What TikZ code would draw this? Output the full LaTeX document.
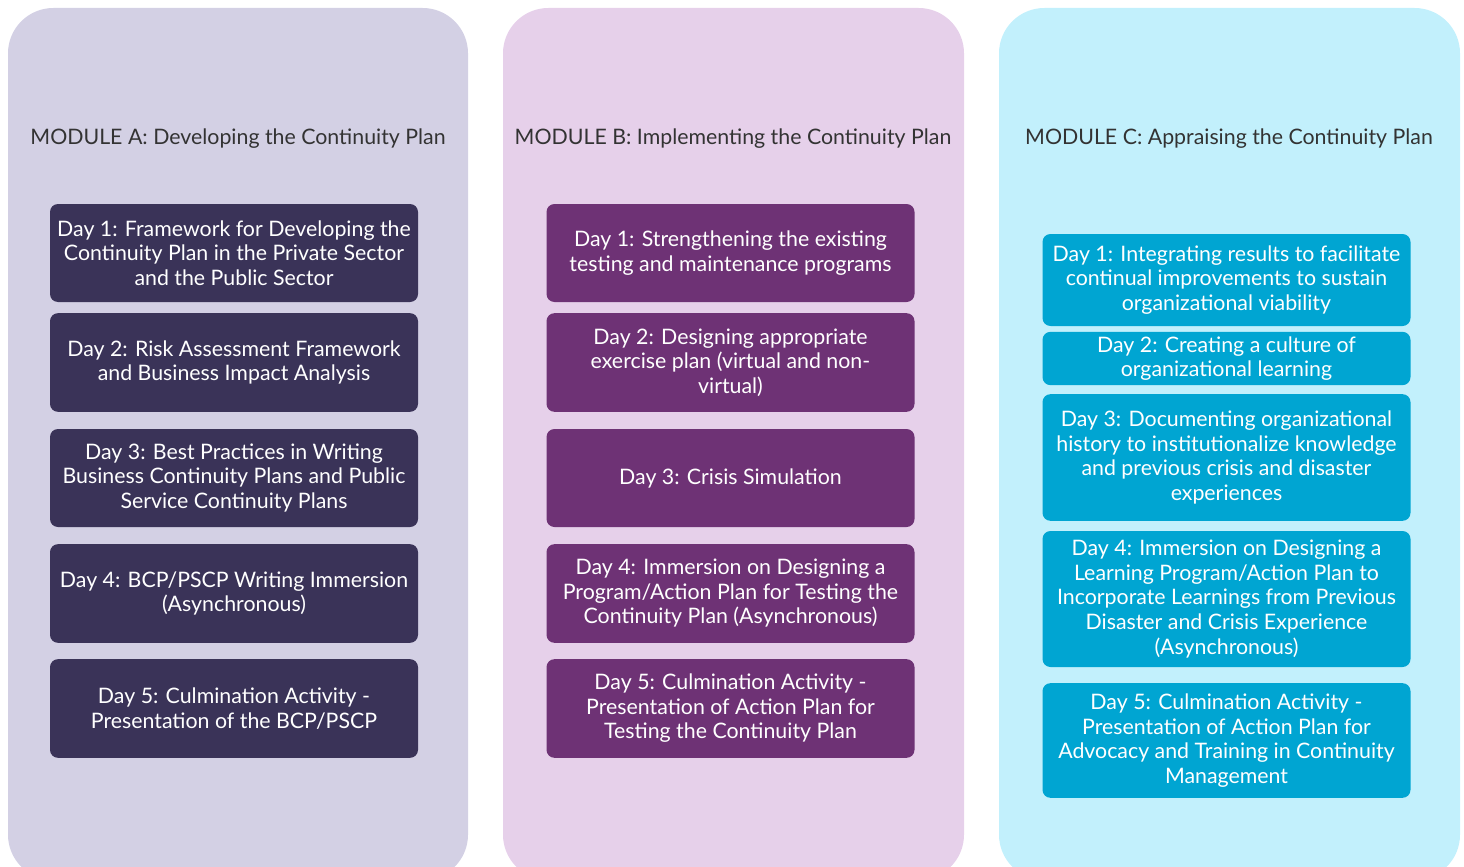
\documentclass[tikz,border=0pt]{standalone}
\usepackage{fontspec}
\setmainfont{Lato}
\definecolor{panelA}{HTML}{D3D0E4}
\definecolor{panelB}{HTML}{E6D0EA}
\definecolor{panelC}{HTML}{C2F0FC}
\definecolor{dayA}{HTML}{3A3358}
\definecolor{dayB}{HTML}{6E3275}
\definecolor{dayC}{HTML}{00A5D2}
\definecolor{titlegray}{HTML}{333333}
\usetikzlibrary{positioning}

\begin{document}
\begin{tikzpicture}[x=0.75pt, y=-0.75pt,
    panel/.style={rounded corners=34pt},
    title/.style={font=\fontsize{16}{18}\selectfont, text=titlegray},
    daybox/.style={rounded corners=6pt, minimum width=276pt, align=center,
      text=white, inner sep=2pt, font=\fontsize{16}{18.4}\selectfont},
    dayboxA/.style={daybox, fill=dayA},
    dayboxB/.style={daybox, fill=dayB},
    dayboxC/.style={daybox, fill=dayC}]
  \useasboundingbox (0,0) rectangle (1464,867);
  % panels
  \fill[panel, panelA] (8,8) rectangle (468,880);
  \fill[panel, panelB] (503,8) rectangle (964,880);
  \fill[panel, panelC] (999,8) rectangle (1460,880);
  % titles
  \node[title] (titleA) at (238,139) {MODULE A: Developing the Continuity Plan};
  \node[title] (titleB) at (733,139) {MODULE B: Implementing the Continuity Plan};
  \node[title] (titleC) at (1229,139) {MODULE C: Appraising the Continuity Plan};
  % module A
  \node[dayboxA, minimum height=73.5pt] (a1) at (234,253) {Day 1: Framework for Developing the\\Continuity Plan in the Private Sector\\and the Public Sector};
  \node[dayboxA, minimum height=74pt] (a2) at (234,362.5) {Day 2: Risk Assessment Framework\\and Business Impact Analysis};
  \node[dayboxA, minimum height=73.5pt] (a3) at (234,478) {Day 3: Best Practices in Writing\\Business Continuity Plans and Public\\Service Continuity Plans};
  \node[dayboxA, minimum height=74pt] (a4) at (234,593.5) {Day 4: BCP/PSCP Writing Immersion\\(Asynchronous)};
  \node[dayboxA, minimum height=74pt] (a5) at (234,708.5) {Day 5: Culmination Activity -\\Presentation of the BCP/PSCP};
  % module B
  \node[dayboxB, minimum height=73.5pt] (b1) at (730.5,253) {Day 1: Strengthening the existing\\testing and maintenance programs};
  \node[dayboxB, minimum height=74pt] (b2) at (730.5,362.5) {Day 2: Designing appropriate\\exercise plan (virtual and non-\\virtual)};
  \node[dayboxB, minimum height=73.5pt] (b3) at (730.5,478) {Day 3: Crisis Simulation};
  \node[dayboxB, minimum height=74pt] (b4) at (730.5,593.5) {Day 4: Immersion on Designing a\\Program/Action Plan for Testing the\\Continuity Plan (Asynchronous)};
  \node[dayboxB, minimum height=74pt] (b5) at (730.5,708.5) {Day 5: Culmination Activity -\\Presentation of Action Plan for\\Testing the Continuity Plan};
  % module C
  \node[dayboxC, minimum height=69pt] (c1) at (1226.5,280) {Day 1: Integrating results to facilitate\\continual improvements to sustain\\organizational viability};
  \node[dayboxC, minimum height=40pt] (c2) at (1226.5,358.5) {Day 2: Creating a culture of\\organizational learning};
  \node[dayboxC, minimum height=95pt] (c3) at (1226.5,457.5) {Day 3: Documenting organizational\\history to institutionalize knowledge\\and previous crisis and disaster\\experiences};
  \node[dayboxC, minimum height=102pt] (c4) at (1226.5,599) {Day 4: Immersion on Designing a\\Learning Program/Action Plan to\\Incorporate Learnings from Previous\\Disaster and Crisis Experience\\(Asynchronous)};
  \node[dayboxC, minimum height=86pt] (c5) at (1226.5,740.5) {Day 5: Culmination Activity -\\Presentation of Action Plan for\\Advocacy and Training in Continuity\\Management};
\end{tikzpicture}
\end{document}
